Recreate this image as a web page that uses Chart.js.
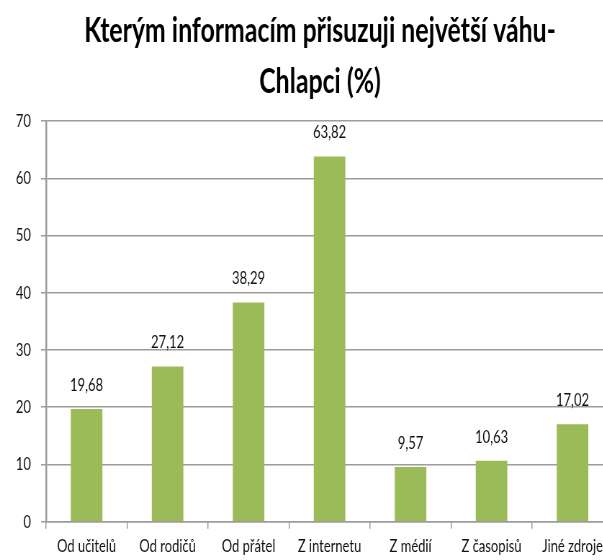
<!DOCTYPE html>
<html>
<head>
<meta charset="utf-8">
<script src="https://cdn.jsdelivr.net/npm/chart.js@4/dist/chart.umd.min.js"></script>
<style>
  html, body { margin: 0; padding: 0; background: #fff; }
  #wrap { width: 603px; height: 560px; overflow: hidden; }
  /* the source picture is squeezed sideways, so draw wide and squeeze */
  #chart { transform: scaleX(0.72); transform-origin: 0 0; }
</style>
</head>
<body>
<div id="wrap"><canvas id="chart" width="889" height="560"></canvas></div>
<script>
const categories = ['Od učitelů', 'Od rodičů', 'Od přátel', 'Z internetu', 'Z médií', 'Z časopisů', 'Jiné zdroje'];
const values = [19.68, 27.12, 38.29, 63.82, 9.57, 10.63, 17.02];
const yTicks = [0, 10, 20, 30, 40, 50, 60, 70];

const gridGray = '#9c9c9c';
const font = 'Lato';

// value labels above the bars, written with a decimal comma
const barLabels = {
  id: 'barLabels',
  afterDatasetsDraw(chart) {
    const ctx = chart.ctx;
    const meta = chart.getDatasetMeta(0);
    ctx.save();
    ctx.font = '18px ' + font;
    ctx.fillStyle = '#111';
    ctx.textAlign = 'center';
    ctx.textBaseline = 'middle';
    meta.data.forEach((bar, i) => {
      ctx.fillText(values[i].toFixed(2).replace('.', ','), bar.x, bar.y - 24);
    });
    ctx.restore();
  }
};

new Chart(document.getElementById('chart'), {
  type: 'bar',
  data: {
    labels: categories,
    datasets: [{
      data: values,
      backgroundColor: '#9bbb59',
      borderWidth: 0,
      categoryPercentage: 1,
      barPercentage: 0.39
    }]
  },
  options: {
    responsive: false,
    animation: false,
    plugins: {
      legend: { display: false },
      tooltip: { enabled: false },
      title: {
        display: true,
        text: ['Kterým informacím přisuzuji největší váhu-', 'Chlapci (%)'],
        color: '#000',
        font: { family: font, size: 34.5, weight: 'bold', lineHeight: 1.48 },
        padding: { top: 5, bottom: 14 }
      }
    },
    scales: {
      x: {
        afterFit(scale) { scale.height = 38.3; },
        grid: { drawOnChartArea: false, offset: true, color: gridGray, lineWidth: 1.5, tickLength: 7 },
        border: { color: gridGray, width: 1.5 },
        ticks: { color: '#111', font: { family: font, size: 18 }, padding: 7, maxRotation: 0, autoSkip: false }
      },
      y: {
        min: 0,
        max: 70,
        afterFit(scale) { scale.width = 64; },
        afterBuildTicks(scale) { scale.ticks = yTicks.map(v => ({ value: v })); },
        grid: { color: gridGray, lineWidth: 1.5, tickLength: 7 },
        border: { color: gridGray, width: 2.5 },
        ticks: { color: '#111', font: { family: font, size: 18 }, padding: 14 }
      },
      // empty strip on the right so the plot ends where the source does
      // while the title stays centred on the whole canvas
      spacer: {
        position: 'right',
        afterFit(scale) { scale.width = 37.6; },
        grid: { display: false },
        border: { display: false },
        ticks: { display: false }
      }
    }
  },
  plugins: [barLabels]
});
</script>
</body>
</html>
